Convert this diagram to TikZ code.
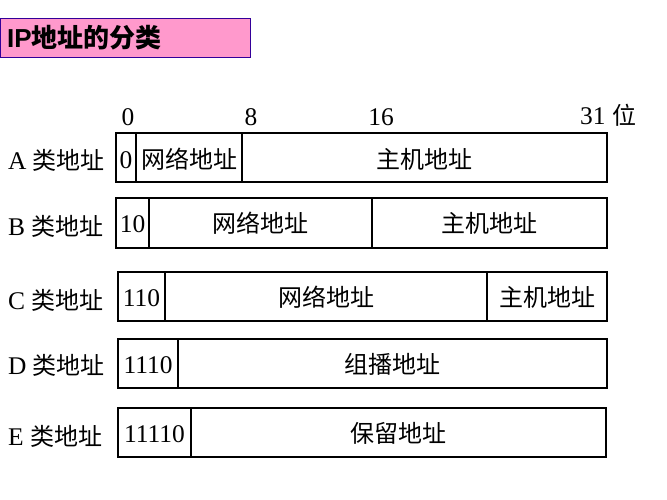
\documentclass[tikz,border=0pt]{standalone}
\usepackage{fontspec}
\usepackage{tikz}
\usetikzlibrary{positioning}
\setmainfont{Liberation Serif}[Scale=1.06]
\newfontfamily\cjk{Noto Sans CJK SC}
\newfontfamily\titlefont{Liberation Sans}
\definecolor{titlepink}{RGB}{255,153,204}
\definecolor{titleline}{RGB}{51,0,153}

\begin{document}
\begin{tikzpicture}[x=1pt, y=-1pt,
    fld/.style={draw=black, line width=2pt, inner sep=0pt, outer sep=0pt,
        text height=22, text depth=2,
        minimum height=49, font=\fontsize{24}{28}\selectfont},
    cls/.style={anchor=west, inner sep=0pt, text height=22, text depth=2,
        font=\fontsize{24}{28}\selectfont},
    bit/.style={inner sep=0pt, font=\fontsize{24}{28}\selectfont}]
\useasboundingbox (0,0) rectangle (667,500);
\node [draw={titleline}, fill=titlepink, line width=1pt, rectangle, inner sep=0pt,
    minimum width=250, minimum height=39, anchor=north west] (title) at (0,18) {};
\node [anchor=west, inner sep=0pt, font=\fontsize{26}{30}\selectfont\bfseries]
    (titletext) at (7,38) {\titlefont IP\cjk 地址的分类};

\node[bit] (b0) at (128,117) {0};
\node[bit] (b8) at (251,117) {8};
\node[bit] (b16) at (381,117) {16};
\node[bit, anchor=west] (b31) at (580,115) {31 {\cjk 位}};

% A
\node[cls] (la) at (8,160) {A {\cjk 类地址}};
\node[fld, minimum width=20, anchor=west] (a0) at (116,158) {0};
\node[fld, minimum width=106, right=0pt of a0] (anet) {\cjk 网络地址};
\node[fld, minimum width=365, right=0pt of anet] (ahost) {\cjk 主机地址};

% B
\node[cls] (lb) at (8,225) {B {\cjk 类地址}};
\node[fld, minimum width=33, anchor=west] (b10) at (116,223) {10};
\node[fld, minimum width=223, right=0pt of b10] (bnet) {\cjk 网络地址};
\node[fld, minimum width=235, right=0pt of bnet] (bhost) {\cjk 主机地址};

% C
\node[cls] (lc) at (8,299) {C {\cjk 类地址}};
\node[fld, minimum width=47, anchor=west] (c110) at (118,296) {110};
\node[fld, minimum width=322, right=0pt of c110] (cnet) {\cjk 网络地址};
\node[fld, minimum width=120, right=0pt of cnet] (chost) {\cjk 主机地址};

% D
\node[cls] (ld) at (8,364) {D {\cjk 类地址}};
\node[fld, minimum width=60, anchor=west] (d1110) at (118,363) {1110};
\node[fld, minimum width=429, right=0pt of d1110] (dgrp) {\cjk 组播地址};

% E
\node[cls] (le) at (8,435) {E {\cjk 类地址}};
\node[fld, minimum width=73, anchor=west] (e11110) at (118,432) {11110};
\node[fld, minimum width=415, right=0pt of e11110] (eres) {\cjk 保留地址};
\end{tikzpicture}
\end{document}
